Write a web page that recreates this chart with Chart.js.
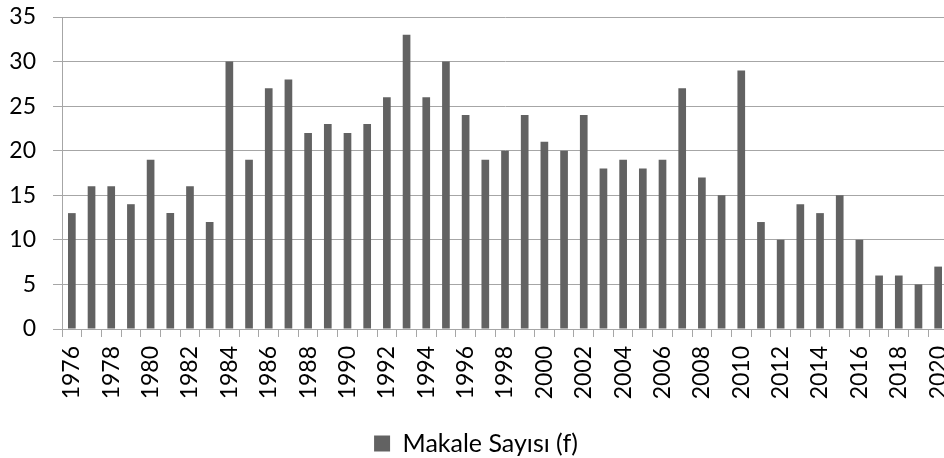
<!DOCTYPE html>
<html><head><meta charset="utf-8">
<script src="https://cdn.jsdelivr.net/npm/chart.js@4"></script>
<style>html,body{margin:0;padding:0;overflow:hidden;background:#fff;width:944px;height:458px}canvas{display:block}</style>
</head><body>
<canvas id="c" width="952" height="458"></canvas>
<script>
const years = [1976,1977,1978,1979,1980,1981,1982,1983,1984,1985,1986,1987,1988,1989,1990,1991,1992,1993,1994,1995,1996,1997,1998,1999,2000,2001,2002,2003,2004,2005,2006,2007,2008,2009,2010,2011,2012,2013,2014,2015,2016,2017,2018,2019,2020];
const makaleSayisi = [13,16,16,14,19,13,16,12,30,19,27,28,22,23,22,23,26,33,26,30,24,19,20,24,21,20,24,18,19,18,19,27,17,15,29,12,10,14,13,15,10,6,6,5,7];
const yTicks = [0,5,10,15,20,25,30,35];
const seriesName = 'Makale Sayısı (f)';

const FONT = 'Lato, "Open Sans", sans-serif';
const chart = new Chart(document.getElementById('c'), {
  type: 'bar',
  data: {
    labels: years.map(String),
    datasets: [{
      label: seriesName,
      data: makaleSayisi,
      backgroundColor: '#626262',
      borderWidth: 0,
      barPercentage: 0.39,
      categoryPercentage: 1.0
    }]
  },
  options: {
    responsive: false,
    animation: false,
    layout: { padding: { top: 17, left: 4, right: 4, bottom: -8 } },
    plugins: {
      tooltip: { enabled: false },
      legend: {
        position: 'bottom',
        labels: {
          font: { family: FONT, size: 25, lineHeight: 1 },
          color: '#000',
          boxWidth: 16, boxHeight: 16,
          padding: 0
        }
      }
    },
    scales: {
      x: {
        offset: true,
        afterFit: function(axis) { axis.height = 102; axis.paddingLeft = 0; axis.paddingRight = 0; },
        grid: { display: true, drawOnChartArea: false, offset: true, tickLength: 8, color: '#a6a6a6', lineWidth: 1 },
        border: { display: true, color: '#a6a6a6' },
        ticks: {
          autoSkip: false,
          maxRotation: 90, minRotation: 90,
          color: '#000',
          font: { family: FONT, size: 23 },
          padding: 9,
          callback: function(v, i) { return (years[i] % 2 === 0) ? String(years[i]) : ''; }
        }
      },
      y: {
        min: 0, max: 35,
        afterFit: function(axis) { axis.width = 58; axis.paddingTop = 0; axis.paddingBottom = 0; },
        afterBuildTicks: function(axis) { axis.ticks = yTicks.map(v => ({ value: v })); },
        grid: { color: '#a6a6a6', tickLength: 9, lineWidth: 1 },
        border: { display: true, color: '#a6a6a6' },
        ticks: {
          color: '#000',
          font: { family: FONT, size: 23 },
          padding: 17
        }
      }
    }
  }
});
</script>
</body></html>
